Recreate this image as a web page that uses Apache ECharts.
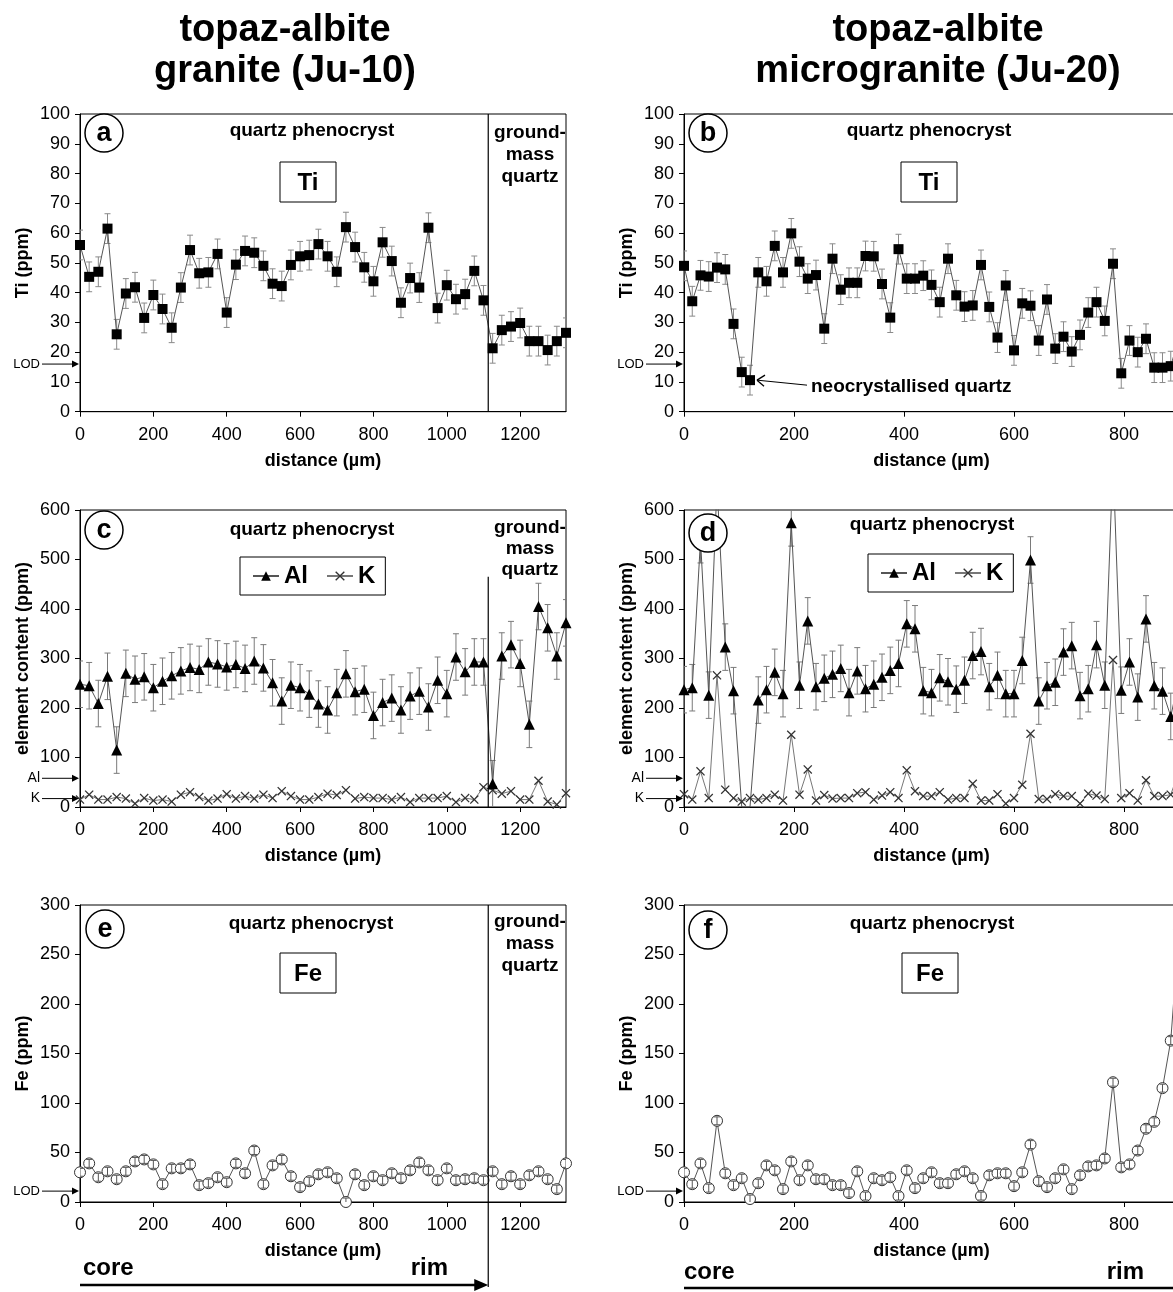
<!DOCTYPE html>
<html><head><meta charset="utf-8">
<script src="https://cdn.jsdelivr.net/npm/echarts@6/dist/echarts.min.js"></script>
<style>html,body{margin:0;padding:0;background:#fff}#c{width:1173px;height:1292px}</style>
</head><body><div id="c"></div>
<script>
// ---- distances (µm) ----
const distA = [0,25,50,75,100,125,150,175,200,225,250,275,300,325,350,375,400,425,450,475,500,525,550,575,600,625,650,675,700,725,750,775,800,825,850,875,900,925,950,975,1000,1025,1050,1075,1100,1125,1150,1175,1200,1225,1250,1275,1300,1325];
const distB = [0,15,30,45,60,75,90,105,120,135,150,165,180,195,210,225,240,255,270,285,300,315,330,345,360,375,390,405,420,435,450,465,480,495,510,525,540,555,570,585,600,615,630,645,660,675,690,705,720,735,750,765,780,795,810,825,840,855,870,885,900];
// ---- Ju-10 (left column) ----
const tiA = [56,45.3,47,61.5,26,39.7,41.8,31.5,39.2,34.5,28.2,41.7,54.3,46.5,46.8,53,33.3,49.4,54,53.4,49,43,42.2,49.3,52.2,52.6,56.3,52.2,47,62,55.3,48.5,43.8,56.9,50.6,36.6,44.9,41.7,61.8,34.8,42.5,37.8,39.5,47.3,37.4,21.3,27.4,28.6,29.8,23.7,23.7,20.7,23.7,26.5];
const alC = [248,245,209,264,115,270,258,263,241,254,265,275,282,278,293,289,283,288,280,295,281,251,214,246,241,228,208,196,231,269,233,238,185,211,220,196,224,234,202,256,229,303,273,293,293,47,305,328,290,167,405,362,305,372];
const kC = [15,25,15,15,20,17,7,18,13,15,11,25,30,20,13,17,26,17,22,17,25,18,32,22,15,15,20,27,24,34,17,20,18,18,15,20,10,18,18,18,22,10,18,15,40,34,27,32,15,15,53,11,5,28];
const feE = [30,39,25,31,23,31,41,43,38,18,34,34,38,17,19,25,20,39,29,52,18,37,43,26,15,21,28,30,24,0,28,17,26,22,29,24,32,40,32,22,34,22,23,24,22,31,18,26,18,27,31,23,13,39];
// ---- Ju-20 (right column) ----
const tiB = [49.0,37.1,45.8,45.4,48.4,47.8,29.5,13.3,10.6,46.8,43.8,55.7,46.8,59.9,50.4,44.7,45.9,27.9,51.4,41.0,43.3,43.3,52.3,52.2,42.9,31.6,54.6,44.7,44.7,45.7,42.6,36.8,51.4,39.1,35.3,35.7,49.3,35.2,24.9,42.4,20.6,36.4,35.6,23.9,37.7,21.2,25.2,20.2,25.8,33.3,36.8,30.5,49.7,12.9,23.9,20.0,24.5,14.8,14.8,15.3,25];
const alD = [237,241,540,226,650,323,235,0,0,216,237,272,229,574,246,376,243,260,268,280,231,275,239,248,262,276,290,370,360,235,231,261,253,238,256,306,314,243,266,229,229,296,499,214,245,252,313,326,225,239,328,246,700,236,293,222,380,245,234,183,260];
const kD = [26,15,72,18,266,35,18,11,18,15,18,25,13,146,25,76,13,24,17,18,18,28,30,15,23,30,18,74,32,22,22,30,15,18,18,47,13,13,26,7,18,45,148,16,16,26,22,22,7,27,23,16,297,18,28,13,54,22,22,25,72];
const feF = [30,18,39,14,82,29,17,24,3,19,37,32,13,41,22,37,23,23,17,17,9,31,6,24,22,25,6,32,14,24,30,19,19,28,31,24,6,27,29,29,16,30,58,21,15,24,33,13,27,36,37,44,121,35,38,52,74,81,115,163,275];
// ---- uncertainties / limits / boundaries ----
const tiErr = 5, alErr = 47, feErr = 4;
const lodTi = 16, lodAl = 58, lodK = 17, lodFe = 11;
const groundmassBoundary = 1113;
const xTicksA = [0,200,400,600,800,1000,1200];
const xTicksB = [0,200,400,600,800];
const yTicksTi = [0,10,20,30,40,50,60,70,80,90,100];
const yTicksAlK = [0,100,200,300,400,500,600];
const yTicksFe = [0,50,100,150,200,250,300];

const FONT = '"Liberation Sans", Arial, Helvetica, sans-serif';
const chart = echarts.init(document.getElementById('c'), null, {renderer:'canvas'});

const grids = [
  {left:80, top:114, width:486, height:297.7},
  {left:684, top:114, width:495, height:297.7},
  {left:80, top:510, width:486, height:297},
  {left:684, top:510, width:495, height:297},
  {left:80, top:905, width:486, height:297},
  {left:684, top:905, width:495, height:297}
].map(g => Object.assign(g, {show:true, borderColor:'#000', borderWidth:1, backgroundColor:'#fff', containLabel:false, outerBoundsMode:'none'}));

const plain = v => String(v);

function xAx(gi, max, ticks){
  return {gridIndex:gi, type:'value', min:0, max:max,
    axisLine:{show:true, onZero:false, lineStyle:{color:'#000', width:1}},
    axisTick:{show:true, inside:false, length:5, customValues:ticks, lineStyle:{color:'#000'}},
    axisLabel:{customValues:ticks, formatter:plain, fontSize:18, color:'#000', fontFamily:FONT, margin:14},
    splitLine:{show:false},
    name:'distance (µm)', nameLocation:'middle', nameGap:40, nameMoveOverlap:false,
    nameTextStyle:{fontSize:18, fontWeight:'bold', color:'#000', fontFamily:FONT}};
}
function yAx(gi, ticks, name){
  return {gridIndex:gi, type:'value', min:ticks[0], max:ticks[ticks.length-1], interval:ticks[1]-ticks[0],
    axisLine:{show:true, onZero:false, lineStyle:{color:'#000', width:1}},
    axisTick:{show:true, inside:false, length:5, lineStyle:{color:'#000'}},
    axisLabel:{formatter:plain, fontSize:18, color:'#000', fontFamily:FONT, margin:10},
    splitLine:{show:false},
    name:name, nameLocation:'middle', nameGap:48, nameMoveOverlap:false,
    nameTextStyle:{fontSize:18, fontWeight:'bold', color:'#000', fontFamily:FONT}};
}

const X_SYMBOL = 'path://M0,1L1,0L5,4L9,0L10,1L6,5L10,9L9,10L5,6L1,10L0,9L4,5Z';

function pts(xs, ys, hideZero){
  return xs.map((x,i) => (hideZero && ys[i] <= 0) ? {value:[x, ys[i]], symbolSize:0} : [x, ys[i]]);
}
function lineS(name, gi, xs, ys, symbol, size, itemStyle, lineColor, hideZero){
  return {name:name, type:'line', xAxisIndex:gi, yAxisIndex:gi, data:pts(xs, ys, hideZero),
    symbol:symbol, symbolSize:size, showSymbol:true, clip:true, z:3, animation:false,
    itemStyle:itemStyle, lineStyle:{color:lineColor, width:1}, emphasis:{disabled:true}};
}
function errS(name, gi, xs, ys, err, color, z, skipZero){
  const data = [];
  xs.forEach((x,i) => { if (!(skipZero && ys[i] <= 0)) data.push([x, ys[i]-err, ys[i]+err]); });
  return {name:name, type:'custom', xAxisIndex:gi, yAxisIndex:gi, data:data, clip:true, z:z, animation:false, silent:true,
    encode:{x:0, y:[1,2]},
    renderItem:function(params, api){
      const x = api.value(0);
      const p1 = api.coord([x, api.value(1)]), p2 = api.coord([x, api.value(2)]);
      const w = 3, st = {stroke:color, lineWidth:1, fill:null};
      return {type:'group', children:[
        {type:'line', shape:{x1:p1[0], y1:p1[1], x2:p2[0], y2:p2[1]}, style:st},
        {type:'line', shape:{x1:p2[0]-w, y1:p2[1], x2:p2[0]+w, y2:p2[1]}, style:st},
        {type:'line', shape:{x1:p1[0]-w, y1:p1[1], x2:p1[0]+w, y2:p1[1]}, style:st}
      ]};
    }};
}

const sqStyle = {color:'#000'};
const triStyle = {color:'#000'};
const xStyle = {color:'#333'};
const circStyle = {color:'#fff', borderColor:'#333', borderWidth:1};

const series = [
  errS('err-a', 0, distA, tiA, tiErr, '#8a8a8a', 1),
  lineS('Ti-a', 0, distA, tiA, 'rect', 10, sqStyle, '#555'),
  errS('err-b', 1, distB, tiB, tiErr, '#8a8a8a', 1),
  lineS('Ti-b', 1, distB, tiB, 'rect', 10, sqStyle, '#555'),
  errS('err-c', 2, distA, alC, alErr, '#7a7a7a', 1),
  lineS('K', 2, distA, kC, X_SYMBOL, 9, xStyle, '#777'),
  lineS('Al', 2, distA, alC, 'triangle', 11, triStyle, '#555'),
  errS('err-d', 3, distB, alD, alErr, '#7a7a7a', 1, true),
  lineS('K', 3, distB, kD, X_SYMBOL, 9, xStyle, '#777'),
  lineS('Al', 3, distB, alD, 'triangle', 11, triStyle, '#555', true),
  lineS('Fe-e', 4, distA, feE, 'circle', 11, circStyle, '#555'),
  errS('err-e', 4, distA, feE, feErr, '#555', 5),
  lineS('Fe-f', 5, distB, feF, 'circle', 11, circStyle, '#555'),
  errS('err-f', 5, distB, feF, feErr, '#555', 5)
];

const legendBase = {orient:'horizontal', data:['Al','K'], borderColor:'#000', borderWidth:1, backgroundColor:'#fff',
  padding:[7,10,7,12], itemWidth:26, itemHeight:12, itemGap:18, selectedMode:false, z:20,
  textStyle:{fontSize:24, fontWeight:'bold', color:'#000', fontFamily:FONT}};

chart.setOption({
  animation:false,
  backgroundColor:'#fff',
  grid:grids,
  xAxis:[xAx(0,1325,xTicksA), xAx(1,900,xTicksB), xAx(2,1325,xTicksA), xAx(3,900,xTicksB), xAx(4,1325,xTicksA), xAx(5,900,xTicksB)],
  yAxis:[yAx(0,yTicksTi,'Ti (ppm)'), yAx(1,yTicksTi,'Ti (ppm)'), yAx(2,yTicksAlK,'element content (ppm)'), yAx(3,yTicksAlK,'element content (ppm)'), yAx(4,yTicksFe,'Fe (ppm)'), yAx(5,yTicksFe,'Fe (ppm)')],
  legend:[Object.assign({left:240, top:557}, legendBase), Object.assign({left:868, top:554}, legendBase)],
  series:series
});

// ---- annotations ----
const P = (gi, x, y) => chart.convertToPixel({gridIndex:gi}, [x, y]);
const G = [];
function txt(x, y, s, font, align){
  G.push({type:'text', x:x, y:y, z:30, style:{text:s, font:font, fill:'#000', align:align||'center', verticalAlign:'middle'}});
}
function ln(x1, y1, x2, y2, w, color){
  G.push({type:'line', z:30, shape:{x1:x1, y1:y1, x2:x2, y2:y2}, style:{stroke:color||'#000', lineWidth:w||1}});
}
function head(xt, y, len, half){
  G.push({type:'polygon', z:30, shape:{points:[[xt-len, y-half],[xt, y],[xt-len, y+half]]}, style:{fill:'#000'}});
}
const B = 'bold ';
// titles
txt(285, 31, 'topaz-albite', B+'38px '+FONT);
txt(285, 72, 'granite (Ju-10)', B+'38px '+FONT);
txt(938, 31, 'topaz-albite', B+'38px '+FONT);
txt(938, 72, 'microgranite (Ju-20)', B+'38px '+FONT);
// circled panel letters
[[104,133,'a'],[708,133,'b'],[104,530,'c'],[708,533,'d'],[105,929,'e'],[708,930,'f']].forEach(c => {
  G.push({type:'circle', z:25, shape:{cx:c[0], cy:c[1], r:19}, style:{fill:'#fff', stroke:'#000', lineWidth:1.5}});
  txt(c[0], c[1]+1, c[2], B+'27px '+FONT);
});
// quartz phenocryst labels
[[312,131],[929,131],[312,530],[932,525],[311,924],[932,924]].forEach(p => txt(p[0], p[1], 'quartz phenocryst', B+'19px '+FONT));
// element boxes
function box(cx, cy, s){
  G.push({type:'rect', z:20, shape:{x:cx-28, y:cy-20, width:56, height:40}, style:{fill:'#fff', stroke:'#000', lineWidth:1}});
  txt(cx, cy+1, s, B+'24px '+FONT);
}
box(308, 182, 'Ti'); box(929, 182, 'Ti'); box(308, 973, 'Fe'); box(930, 973, 'Fe');
// ground-mass quartz
[[133,155,177],[528,549,570],[922,944,966]].forEach(ys => {
  txt(530, ys[0], 'ground-', B+'19px '+FONT);
  txt(530, ys[1], 'mass', B+'19px '+FONT);
  txt(530, ys[2], 'quartz', B+'19px '+FONT);
});
// groundmass boundary lines
{
  const a0 = P(0, groundmassBoundary, 100), a1 = P(0, groundmassBoundary, 0);
  ln(a0[0], a0[1], a1[0], a1[1], 1.2);
  const c0 = P(2, groundmassBoundary, 465), c1 = P(2, groundmassBoundary, 0);
  ln(c0[0], c0[1], c1[0], c1[1], 1.2);
  const e0 = P(4, groundmassBoundary, 300);
  ln(e0[0], e0[1], e0[0], 1287, 1.2);
}
// LOD arrows
function lod(gi, val, label, font){
  const p = P(gi, 0, val);
  const x0 = p[0] - 38;
  txt(x0 - 2, p[1], label, font, 'right');
  ln(x0, p[1], p[0] - 4, p[1], 1);
  head(p[0] - 1, p[1], 7, 3.5);
}
lod(0, lodTi, 'LOD', '13px '+FONT);
lod(1, lodTi, 'LOD', '13px '+FONT);
lod(2, lodAl, 'Al', '14px '+FONT);
lod(2, lodK, 'K', '14px '+FONT);
lod(3, lodAl, 'Al', '14px '+FONT);
lod(3, lodK, 'K', '14px '+FONT);
lod(4, lodFe, 'LOD', '13px '+FONT);
lod(5, lodFe, 'LOD', '13px '+FONT);
// neocrystallised quartz arrow (points at the low Ti analysis)
{
  const p = P(1, distB[8], tiB[8]);
  const tx = p[0] + 7, ty = p[1];
  ln(tx, ty, tx + 50, ty + 5, 1);
  ln(tx, ty, tx + 8, ty - 5, 1.3);
  ln(tx, ty, tx + 7, ty + 6, 1.3);
  txt(tx + 54, ty + 7, 'neocrystallised quartz', B+'19px '+FONT, 'left');
}
// core -> rim arrows
txt(83, 1268, 'core', B+'24px '+FONT, 'left');
txt(448, 1268, 'rim', B+'24px '+FONT, 'right');
{
  const e0 = P(4, groundmassBoundary, 0);
  ln(80, 1285, e0[0] - 10, 1285, 2.5);
  head(e0[0], 1285, 14, 6);
}
txt(684, 1272, 'core', B+'24px '+FONT, 'left');
txt(1144, 1272, 'rim', B+'24px '+FONT, 'right');
ln(684, 1288, 1185, 1288, 2.5);
head(1195, 1288, 14, 6);

chart.setOption({graphic:{elements:G}});
</script>
</body></html>
